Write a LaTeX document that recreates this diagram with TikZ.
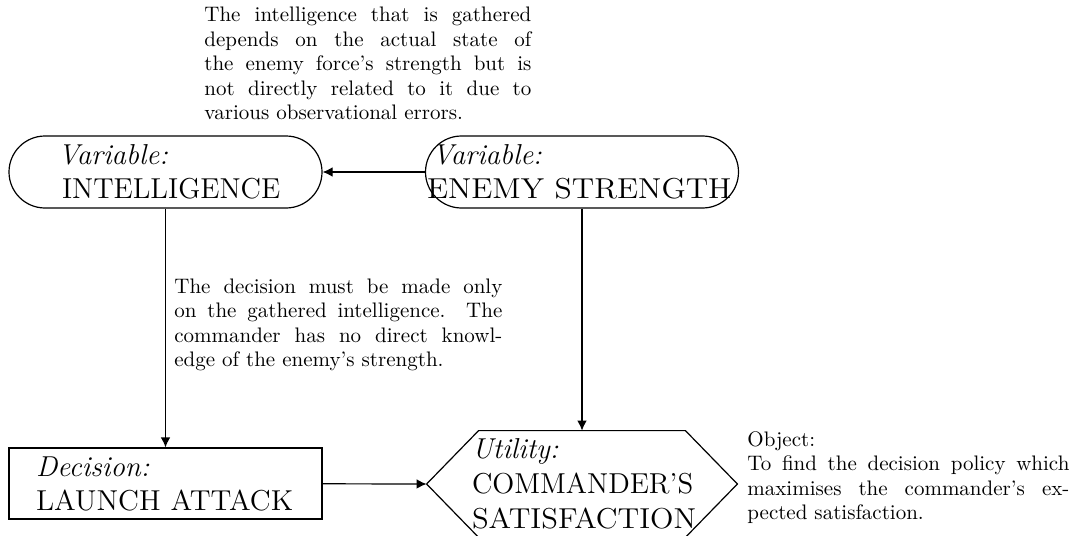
\documentclass[tikz,border=0pt]{standalone}
\usepackage{graphicx}
\usetikzlibrary{arrows.meta,calc}
\begin{document}
\begin{tikzpicture}[x=0.5pt,y=-0.5pt,
  box/.style={draw, line width=0.6pt, inner sep=0pt, align=left,
    font=\fontsize{14.4}{17}\selectfont},
  varnode/.style={box, rounded corners=18pt, minimum width=156.5pt, minimum height=36pt},
  decnode/.style={box, minimum width=156.5pt, minimum height=35.5pt},
  utilnode/.style={inner sep=0pt, align=left, font=\fontsize{14.4}{17.5}\selectfont,
    minimum width=155pt, minimum height=53pt},
  hexline/.style={line width=0.6pt},
  conn/.style={line width=0.6pt, -{Latex[length=5pt,width=4.8pt]}},
  note/.style={inner sep=0pt, anchor=base west, font=\fontsize{10.5}{12.25}\selectfont}
]
\useasboundingbox (0,0) rectangle (1075,535);

\node[varnode, text width=103.5pt] (intel) at (165.5,172)
  {\hspace*{-2pt}\textit{Variable:}\\INTELLIGENCE};
\node[varnode, text width=155pt] (enemy) at (582,172)
  {\hspace*{2.5pt}\textit{Variable:}\\\scalebox{1.1}[1]{ENEMY STRENGTH}};
\node[decnode, text width=129.5pt] (dec) at (165.5,483.5)
  {\textit{Decision:}\\\scalebox{1.024}[1]{LAUNCH ATTACK}};
\node[utilnode, text width=110pt] (util) at (582,484)
  {\textit{Utility:}\\COMMANDER'S\\\scalebox{1.066}[1]{SATISFACTION}};
\draw[hexline] (util.west) -- ([xshift=26pt]util.north west) -- ([xshift=-26pt]util.north east)
  -- (util.east) -- ([xshift=-26pt]util.south east) -- ([xshift=26pt]util.south west) -- cycle;

\draw[conn] (enemy) -- (intel);
\draw[conn] (intel) -- (dec);
\draw[conn] (enemy) -- (enemy |- util.north);
\draw[conn] (dec) -- (util.west);

\node[note] (n1) at (204,22) {\parbox[t]{163.5pt}{The intelligence that is gathered\linebreak
 depends on the actual state of\linebreak
 the enemy force's strength but is\linebreak
 not directly related to it due to\linebreak
 various observational errors.}};
\node[note] (n2) at (174,293) {\parbox[t]{164pt}{The decision must be made only\linebreak
 on the gathered intelligence. The\linebreak
 commander has no direct knowl-\linebreak
 edge of the enemy's strength.}};
\node[note] (n3) at (747,446) {\parbox[t]{161pt}{Object:\\
 To find the decision policy which\linebreak
 maximises the commander's ex-\linebreak
 pected satisfaction.}};
\end{tikzpicture}
\end{document}
